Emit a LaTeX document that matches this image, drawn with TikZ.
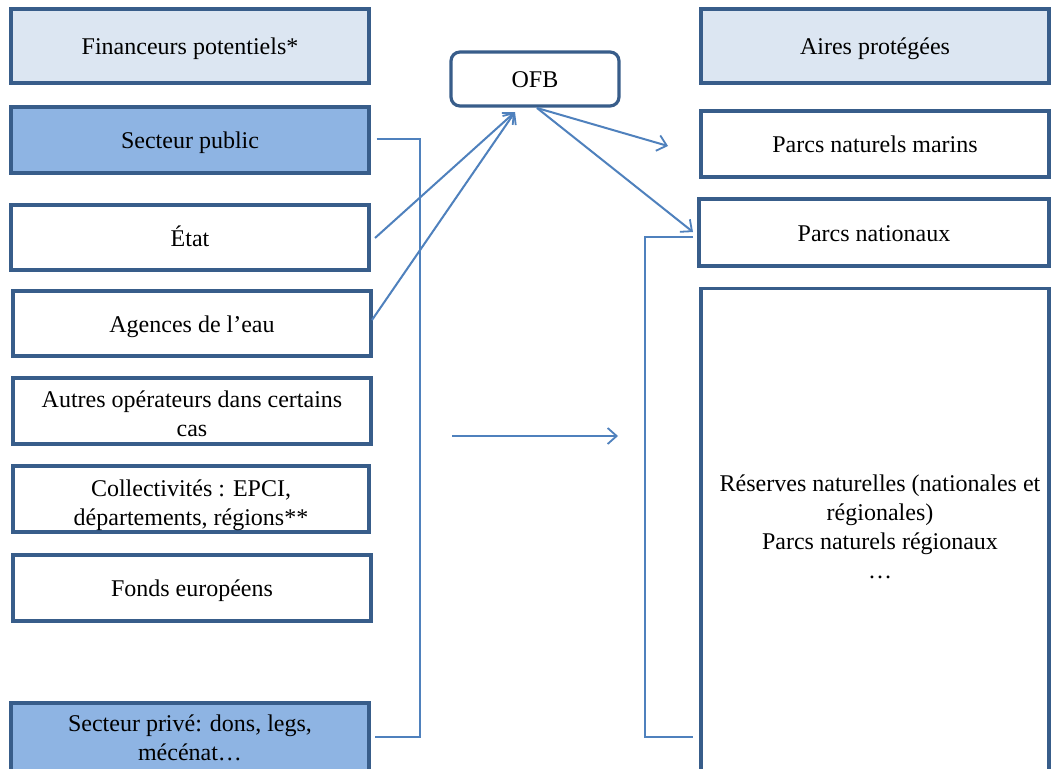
\documentclass[tikz,border=0pt]{standalone}
\usepackage{fontspec}
\setmainfont{Liberation Serif}
\usetikzlibrary{arrows.meta,calc}
\definecolor{bord}{HTML}{385D8A}
\definecolor{lightfill}{HTML}{DCE6F2}
\definecolor{midfill}{HTML}{8EB4E3}
\definecolor{conncol}{HTML}{4F81BD}
\begin{document}
\begin{tikzpicture}[x=1pt,y=-1pt,
  txt/.style={align=center, inner sep=0pt, font=\fontsize{24}{29}\selectfont},
  box/.style={draw=bord, line width=3.2pt, fill=white, align=center, inner sep=0pt,
    text height=17pt, text depth=0pt, font=\fontsize{24}{29}\selectfont},
  head/.style={box, fill=lightfill},
  sect/.style={box, fill=midfill},
  conn/.style={draw=conncol, line width=2pt},
  arr/.style={conn, -{Straight Barb[length=9pt,width=16pt,line width=1.8pt]}}]
\useasboundingbox (0,0) rectangle (1051,768);
\fill[white] (0,0) rectangle (1051,768);
\clip (0,0) rectangle (1051,768);
% left column
\node[head, minimum width=358, minimum height=74] (fin) at (190,46) {Financeurs potentiels*};
\node[sect, minimum width=358, minimum height=66] (pub) at (190,140) {Secteur public};
\node[box, minimum width=358, minimum height=65] (etat) at (190,237.5) {État};
\node[box, minimum width=358, minimum height=65] (agences) at (192,323.5) {Agences de l’eau};
\node[box, minimum width=358, minimum height=66] (autres) at (192,411) {};
\node[txt] (autrest) at ($(autres.center)+(0,3)$) {Autres opérateurs dans certains\\cas};
\node[box, minimum width=356, minimum height=66] (coll) at (191,499) {};
\node[txt] (collt) at ($(coll.center)+(0,6)$) {Collectivités : EPCI,\\départements, régions**};
\node[box, minimum width=358, minimum height=66] (fonds) at (192,588) {Fonds européens};
\node[sect, minimum width=358, minimum height=70] (prive) at (190,738) {};
\node[txt] (privet) at ($(prive.center)+(0,0)$) {Secteur privé: dons, legs,\\mécénat…};
% centre
\node[box, rounded corners=9pt, minimum width=168, minimum height=54] (ofb) at (535,79) {OFB};
% right column
\node[head, minimum width=348, minimum height=74] (aires) at (875,46) {Aires protégées};
\node[box, minimum width=348, minimum height=66] (marins) at (875,144) {Parcs naturels marins};
\node[box, minimum width=350, minimum height=67] (nat) at (874,232.5) {Parcs nationaux};
\node[box, minimum width=348, minimum height=500, anchor=north] (res) at (875,287) {};
\node[txt, anchor=north] (restext) at (880,475)
  {Réserves naturelles (nationales et\\régionales)\\Parcs naturels régionaux\\…};
% connectors
\coordinate (ofbin) at (515,112);
\coordinate (ofbout) at (537,108);
\coordinate (marinsin) at (668,146);
\coordinate (natin) at (693,232);
\coordinate (harrA) at (452,436);
\coordinate (harrB) at (618,436);
\coordinate (lbr) at (420,0);
\coordinate (rbr) at (645,0);
\draw[conn] ([xshift=6pt]pub.east |- 0,139) -- (lbr |- 0,139) -- (lbr |- 0,737) -- (375,737);
\draw[arr] (375,238) -- (ofbin);
\draw[arr] (372,320) -- (ofbin);
\draw[arr] (ofbout) -- (marinsin);
\draw[arr] (ofbout) -- (natin);
\draw[arr] (harrA) -- (harrB);
\draw[conn] (693,237) -- (rbr |- 0,237) -- (rbr |- 0,737) -- (693,737);
\end{tikzpicture}
\end{document}
